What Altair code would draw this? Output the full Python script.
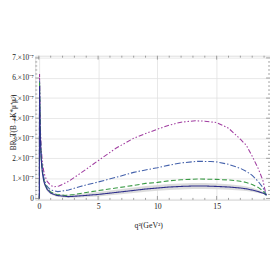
import altair as alt
import pandas as pd

# values of BR in units of 1e-7, q^2 in GeV^2
q_purple = [0.045, 0.06, 0.08, 0.1, 0.15, 0.2, 0.3, 0.4, 0.5, 0.7, 1.0, 1.3, 1.7, 2.5, 3.5, 5.0, 6.5, 8.0, 9.0, 10.0, 11.0, 12.0, 13.2, 14.0, 15.0, 16.0, 17.0, 17.5, 18.0, 18.5, 18.9, 19.2]
v_purple = [0.0, 6.2, 5.3, 4.4, 3.2, 2.5, 1.8, 1.4, 1.15, 0.85, 0.65, 0.58, 0.62, 0.85, 1.25, 1.88, 2.5, 3.0, 3.23, 3.45, 3.65, 3.8, 3.87, 3.85, 3.78, 3.5, 2.95, 2.65, 2.1, 1.5, 0.9, 0.1]

q_blue = [0.045, 0.06, 0.1, 0.15, 0.2, 0.3, 0.4, 0.5, 0.7, 1.0, 1.6, 2.5, 3.5, 5.0, 6.5, 8.0, 9.0, 10.0, 11.0, 12.0, 13.4, 14.5, 15.0, 16.0, 17.0, 17.5, 18.0, 18.5, 18.9, 19.2]
v_blue = [0.0, 5.9, 4.1, 2.9, 2.2, 1.5, 1.1, 0.85, 0.6, 0.42, 0.34, 0.42, 0.6, 0.82, 1.05, 1.3, 1.42, 1.53, 1.66, 1.77, 1.85, 1.84, 1.82, 1.7, 1.5, 1.35, 1.15, 0.85, 0.55, 0.15]

q_green = [0.045, 0.06, 0.1, 0.15, 0.2, 0.3, 0.4, 0.5, 0.7, 1.0, 1.5, 2.2, 3.0, 4.0, 5.0, 6.5, 8.0, 9.0, 10.0, 11.0, 12.0, 13.5, 15.0, 16.0, 17.0, 17.5, 18.0, 18.5, 18.9, 19.2]
v_green = [0.0, 5.8, 3.9, 2.7, 2.05, 1.35, 1.0, 0.75, 0.5, 0.32, 0.2, 0.15, 0.2, 0.3, 0.39, 0.52, 0.65, 0.75, 0.8, 0.88, 0.93, 0.97, 0.95, 0.92, 0.86, 0.8, 0.7, 0.55, 0.38, 0.15]

q_navy = [0.045, 0.06, 0.1, 0.15, 0.2, 0.3, 0.4, 0.5, 0.7, 1.0, 1.5, 2.5, 3.5, 5.0, 6.5, 8.0, 9.0, 10.0, 11.0, 12.0, 13.0, 14.0, 15.0, 16.0, 17.0, 17.5, 18.0, 18.5, 18.9, 19.2]
v_navy = [0.0, 5.6, 3.8, 2.6, 1.95, 1.28, 0.92, 0.7, 0.45, 0.27, 0.15, 0.09, 0.13, 0.2, 0.3, 0.4, 0.47, 0.52, 0.57, 0.6, 0.62, 0.62, 0.6, 0.57, 0.52, 0.48, 0.42, 0.34, 0.27, 0.18]
band_hi = [0.0, 7.3, 4.4, 3.0, 2.25, 1.48, 1.07, 0.82, 0.55, 0.36, 0.24, 0.18, 0.23, 0.32, 0.43, 0.54, 0.62, 0.67, 0.72, 0.75, 0.77, 0.77, 0.75, 0.71, 0.65, 0.6, 0.53, 0.43, 0.33, 0.2]
band_lo = [0.0, 4.6, 3.3, 2.3, 1.7, 1.1, 0.78, 0.58, 0.36, 0.2, 0.08, 0.02, 0.05, 0.1, 0.18, 0.27, 0.33, 0.38, 0.42, 0.45, 0.47, 0.47, 0.46, 0.44, 0.4, 0.37, 0.33, 0.27, 0.22, 0.16]

series_names = ["purple", "blue", "green", "navy"]
series_colors = ["#a03ca0", "#4461ab", "#3a9a45", "#2e2e8c"]
series_dash = [[5, 2, 1.5, 2, 1.5, 2], [6, 2, 1.5, 2], [5, 2.5], [1, 0]]

x_major = [0, 5, 10, 15]
x_minor = [1, 2, 3, 4, 6, 7, 8, 9, 11, 12, 13, 14, 16, 17, 18, 19]
y_major = [0, 1, 2, 3, 4, 5, 6, 7]
y_minor = [0.2, 0.4, 0.6, 0.8, 1.2, 1.4, 1.6, 1.8, 2.2, 2.4, 2.6, 2.8, 3.2, 3.4, 3.6, 3.8,
           4.2, 4.4, 4.6, 4.8, 5.2, 5.4, 5.6, 5.8, 6.2, 6.4, 6.6, 6.8]

W, H = 241, 148
FONT = "Liberation Serif"

rows = []
for name, qs, vs in [("purple", q_purple, v_purple), ("blue", q_blue, v_blue),
                     ("green", q_green, v_green), ("navy", q_navy, v_navy)]:
    for i, (q, v) in enumerate(zip(qs, vs)):
        rows.append({"q": q, "v": v, "series": name, "i": i})
lines_df = pd.DataFrame(rows)
band_df = pd.DataFrame({"q": q_navy, "lo": band_lo, "hi": band_hi})

xs = alt.Scale(domain=[-0.3, 19.5], nice=False, zero=False)
ys = alt.Scale(domain=[-0.07, 7.11], nice=False, zero=False)

x_axis = alt.Axis(values=x_major, grid=True, gridColor="#e2e2e2", gridWidth=0.8,
                  ticks=False, domain=False, labelFont=FONT, labelFontSize=8,
                  labelColor="#222", labelPadding=3, format="d",
                  labelOverlap=False, labelFlush=False,
                  title="q²(GeV²)", titleFont=FONT, titleFontSize=8, titleFontWeight="normal",
                  titleColor="#222", titleX=116, titleY=22)
y_axis = alt.Axis(values=y_major, grid=True, gridColor="#e2e2e2", gridWidth=0.8,
                  ticks=False, domain=False, labelFont=FONT, labelFontSize=7.5,
                  labelColor="#222", labelPadding=2,
                  labelOverlap=False, labelFlush=False,
                  labelExpr="datum.value == 0 ? '0' : format(datum.value, 'd') + '.×10⁻⁷'",
                  title="BR_T(B→K*μ⁺μ⁻)", titleFont=FONT, titleFontSize=7.5,
                  titleFontWeight="normal", titleColor="#222", titleX=-18, titleY=68)


def X(field):
    return alt.X(field, scale=xs, axis=x_axis, title="q²(GeV²)")


def Y(field):
    return alt.Y(field, scale=ys, axis=y_axis, title="BR_T(B→K*μ⁺μ⁻)")


band = alt.Chart(band_df).mark_area(color="#d6d6d6", opacity=0.85, clip=True).encode(
    x=X("q:Q"), y=Y("lo:Q"), y2="hi:Q",
)

lines = alt.Chart(lines_df).mark_line(strokeWidth=1.1, clip=True).encode(
    x=X("q:Q"), y=Y("v:Q"),
    color=alt.Color("series:N", scale=alt.Scale(domain=series_names, range=series_colors), legend=None),
    strokeDash=alt.StrokeDash("series:N", scale=alt.Scale(domain=series_names, range=series_dash), legend=None),
    order="i:Q",
)

tick_color = "#777"
xmaj_df = pd.DataFrame({"q": x_major})
xmin_df = pd.DataFrame({"q": x_minor})
ymaj_df = pd.DataFrame({"v": y_major})
ymin_df = pd.DataFrame({"v": y_minor})


def xticks(df, length):
    bottom = alt.Chart(df).mark_rule(color=tick_color, strokeWidth=0.7).encode(
        x=X("q:Q"), y=alt.value(H), y2=alt.value(H - length))
    top = alt.Chart(df).mark_rule(color=tick_color, strokeWidth=0.7).encode(
        x=X("q:Q"), y=alt.value(0), y2=alt.value(length))
    return [bottom, top]


def yticks(df, length):
    left = alt.Chart(df).mark_rule(color=tick_color, strokeWidth=0.7).encode(
        y=Y("v:Q"), x=alt.value(0), x2=alt.value(length))
    right = alt.Chart(df).mark_rule(color=tick_color, strokeWidth=0.7).encode(
        y=Y("v:Q"), x=alt.value(W), x2=alt.value(W - length))
    return [left, right]


tick_layers = xticks(xmaj_df, 4) + xticks(xmin_df, 2) + yticks(ymaj_df, 4) + yticks(ymin_df, 2)

chart = alt.layer(band, lines, *tick_layers).properties(
    width=W, height=H,
    padding={"left": 28, "top": 46, "right": 0, "bottom": 30},
    autosize=alt.AutoSizeParams(type="none"),
).configure_view(stroke="#888", strokeWidth=0.8).configure(background="white")

chart.save("out.html", embed_options={"renderer": "svg", "actions": False})
